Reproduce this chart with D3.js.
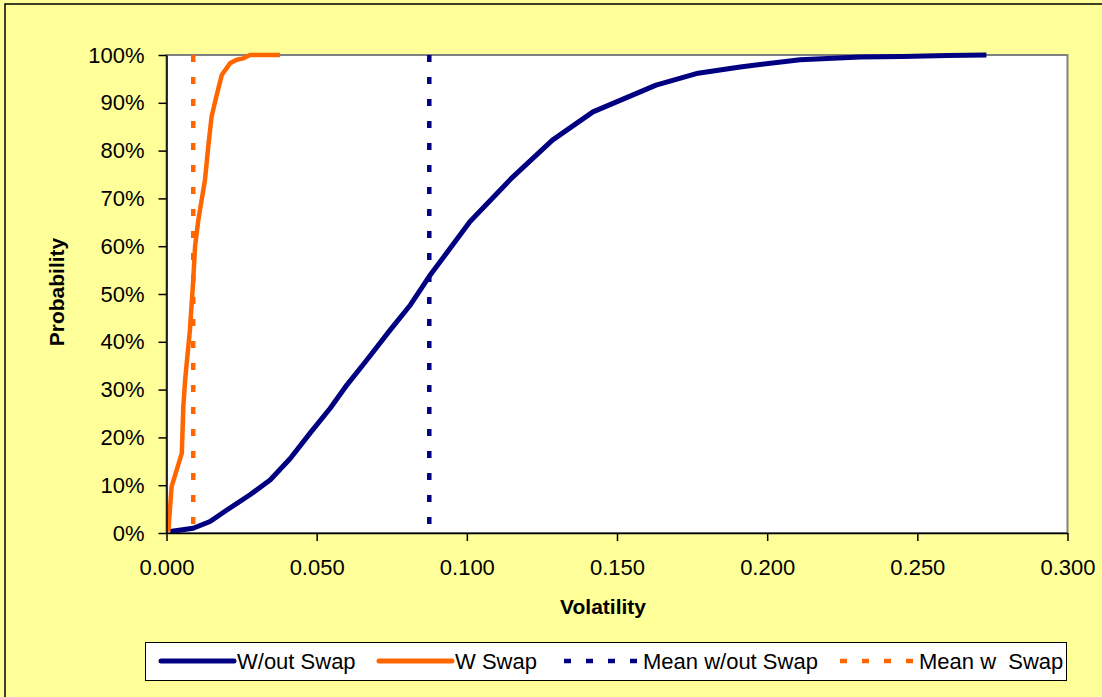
<!DOCTYPE html>
<html>
<head>
<meta charset="utf-8">
<script src="https://cdn.jsdelivr.net/npm/d3@7"></script>
<style>
  body { margin: 0; background: #fff; }
  svg { display: block; font-family: "Liberation Sans", Arial, sans-serif; }
</style>
</head>
<body>
<svg width="1102" height="697"></svg>
<script>
var width = 1102;
var height = 697;

// cumulative distribution
var withoutSwapVol = [0.0012, 0.0089, 0.0145, 0.0201, 0.0278, 0.0345, 0.0412, 0.0478, 0.0545, 0.0601, 0.0667, 0.0745, 0.0812, 0.0875, 0.101, 0.115, 0.1285, 0.142, 0.163, 0.177, 0.191, 0.211, 0.231, 0.245, 0.26, 0.273];
var withoutSwapProb = [0.003, 0.01, 0.024, 0.048, 0.08, 0.111, 0.156, 0.209, 0.261, 0.31, 0.362, 0.425, 0.477, 0.537, 0.651, 0.743, 0.822, 0.881, 0.937, 0.962, 0.975, 0.99, 0.996, 0.997, 0.999, 1.0];

var withSwapVol = [0.0006, 0.0017, 0.0051, 0.0056, 0.0062, 0.0078, 0.0089, 0.0095, 0.0106, 0.0128, 0.0139, 0.015, 0.0167, 0.0184, 0.0212, 0.0234, 0.0256, 0.0278, 0.0378];
var withSwapProb = [0.003, 0.097, 0.167, 0.264, 0.32, 0.425, 0.529, 0.599, 0.655, 0.738, 0.808, 0.871, 0.916, 0.958, 0.983, 0.99, 0.993, 1.0, 1.0];

var meanWithoutSwap = 0.0875;
var meanWithSwap = 0.0089;

var xTicks = [0, 0.05, 0.1, 0.15, 0.2, 0.25, 0.3];
var yTicks = [0, 0.1, 0.2, 0.3, 0.4, 0.5, 0.6, 0.7, 0.8, 0.9, 1.0];

var legendNames = ["W/out Swap", "W Swap", "Mean w/out Swap", "Mean w  Swap"];

var navy = "#000080";
var orange = "#FF6600";

var svg = d3.select("svg");

// chart background + border
svg.append("rect")
    .attr("x", 0).attr("y", 0)
    .attr("width", width).attr("height", height)
    .style("fill", "#FFFF99");
svg.append("rect")
    .attr("x", 5).attr("y", 4)
    .attr("width", 1110).attr("height", 710)
    .style("fill", "none")
    .style("stroke", "#000")
    .style("stroke-width", 1.5);

var margin = {left: 166.5, right: 1067.5, top: 55, bottom: 533};

var x = d3.scaleLinear().domain([0, 0.3]).range([margin.left, margin.right]);
var y = d3.scaleLinear().domain([0, 1]).range([margin.bottom, margin.top]);

// plot area
svg.append("rect")
    .attr("x", margin.left).attr("y", margin.top)
    .attr("width", margin.right - margin.left)
    .attr("height", margin.bottom - margin.top)
    .style("fill", "#fff")
    .style("stroke", "#808080")
    .style("stroke-width", 2);

var g = svg.append("g");

var line = d3.line()
    .x(function(d) { return x(d[0]); })
    .y(function(d) { return y(d[1]); });

// mean lines
g.append("line")
    .attr("x1", x(meanWithoutSwap)).attr("x2", x(meanWithoutSwap))
    .attr("y1", y(1)).attr("y2", y(0))
    .style("stroke", navy)
    .style("stroke-width", 4.5)
    .style("stroke-dasharray", "7,15");
g.append("line")
    .attr("x1", x(meanWithSwap)).attr("x2", x(meanWithSwap))
    .attr("y1", y(1)).attr("y2", y(0))
    .style("stroke", orange)
    .style("stroke-width", 4.5)
    .style("stroke-dasharray", "7,15");

g.append("path")
    .datum(d3.zip(withoutSwapVol, withoutSwapProb))
    .attr("d", line)
    .style("fill", "none")
    .style("stroke", navy)
    .style("stroke-width", 5)
    .style("stroke-linejoin", "round");

g.append("path")
    .datum(d3.zip(withSwapVol, withSwapProb))
    .attr("d", line)
    .style("fill", "none")
    .style("stroke", orange)
    .style("stroke-width", 4.5)
    .style("stroke-linejoin", "round");

// axes
var xAxis = d3.axisBottom(x)
    .tickValues(xTicks)
    .tickFormat(d3.format(".3f"))
    .tickSize(8)
    .tickSizeOuter(0);
var yAxis = d3.axisLeft(y)
    .tickValues(yTicks)
    .tickFormat(d3.format(".0%"))
    .tickSize(8)
    .tickSizeOuter(0);

var gx = svg.append("g")
    .attr("transform", "translate(0," + margin.bottom + ")")
    .call(xAxis);
gx.select(".domain").style("stroke", "#000").style("stroke-width", 1.5);
gx.selectAll(".tick line").style("stroke", "#000").style("stroke-width", 1.5);
gx.selectAll(".tick text")
    .attr("y", 26)
    .attr("dy", "0.71em")
    .style("font-size", "22px")
    .style("fill", "#000")
    .style("font-family", "Liberation Sans, Arial, sans-serif");

var gy = svg.append("g")
    .attr("transform", "translate(" + margin.left + ",0)")
    .call(yAxis);
gy.select(".domain").style("stroke", "#000").style("stroke-width", 1.5);
gy.selectAll(".tick line").style("stroke", "#000").style("stroke-width", 1.5);
gy.selectAll(".tick text")
    .attr("x", -22)
    .style("font-size", "22px")
    .style("fill", "#000")
    .style("font-family", "Liberation Sans, Arial, sans-serif");

// axis titles
svg.append("text")
    .attr("x", 603).attr("y", 614)
    .attr("text-anchor", "middle")
    .style("font-size", "21px")
    .style("font-weight", "bold")
    .text("Volatility");

svg.append("text")
    .attr("transform", "translate(64,292) rotate(-90)")
    .attr("text-anchor", "middle")
    .style("font-size", "21px")
    .style("font-weight", "bold")
    .text("Probability");

// legend
svg.append("rect")
    .attr("x", 145.5).attr("y", 642.5)
    .attr("width", 921).attr("height", 38)
    .style("fill", "#fff")
    .style("stroke", "#000")
    .style("stroke-width", 1);

var legendX = [161, 379, 564, 840];
var legendColors = [navy, orange, navy, orange];
var legendDash = [null, null, "7,15", "7,15"];

var item = svg.selectAll(".legend-item")
    .data(legendNames)
    .enter().append("g")
    .attr("class", "legend-item")
    .attr("transform", function(d, i) { return "translate(" + legendX[i] + ",661)"; });

item.append("line")
    .attr("x1", 0).attr("x2", 73)
    .style("stroke", function(d, i) { return legendColors[i]; })
    .style("stroke-width", function(d, i) { return legendDash[i] ? 4.5 : 5; })
    .style("stroke-linecap", function(d, i) { return legendDash[i] ? "butt" : "round"; })
    .style("stroke-dasharray", function(d, i) { return legendDash[i]; });

item.append("text")
    .attr("x", function(d, i) { return legendDash[i] ? 79 : 76; })
    .attr("y", 8)
    .style("font-size", "22px")
    .style("white-space", "pre")
    .text(function(d) { return d; });
</script>
</body>
</html>
